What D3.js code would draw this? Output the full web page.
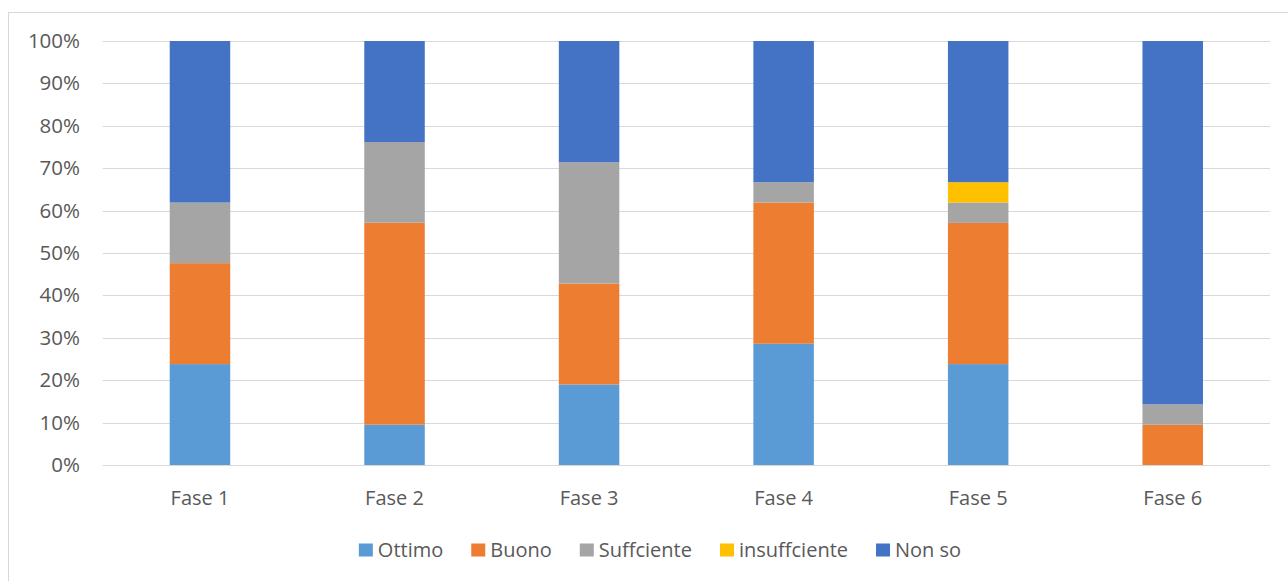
<!DOCTYPE html>
<html>
<head>
<meta charset="utf-8">
<script src="https://cdn.jsdelivr.net/npm/d3@7"></script>
<style>
  html, body { margin: 0; padding: 0; background: #fff; }
  svg { display: block; }
  text { font-family: "Open Sans", sans-serif; fill: #595959; }
</style>
</head>
<body>
<svg id="chart" width="1288" height="581"></svg>
<script>
const categories = ["Fase 1", "Fase 2", "Fase 3", "Fase 4", "Fase 5", "Fase 6"];
const seriesNames = ["Ottimo", "Buono", "Suffciente", "insuffciente", "Non so"];
const ottimo       = [23.8,  9.5, 19.0, 28.6, 23.8,  0.0];
const buono        = [23.8, 47.6, 23.8, 33.3, 33.3,  9.5];
const sufficiente  = [14.3, 19.0, 28.6,  4.8,  4.8,  4.8];
const insufficiente= [ 0.0,  0.0,  0.0,  0.0,  4.8,  0.0];
const nonSo        = [38.1, 23.8, 28.6, 33.3, 33.3, 85.7];
const yTicks = [0, 10, 20, 30, 40, 50, 60, 70, 80, 90, 100];
const colors = ["#5B9BD5", "#ED7D31", "#A5A5A5", "#FFC000", "#4472C4"];

const seriesValues = [ottimo, buono, sufficiente, insufficiente, nonSo];
const table = categories.map((c, i) => {
  const row = { cat: c };
  seriesNames.forEach((s, j) => row[s] = seriesValues[j][i]);
  return row;
});
const stacked = d3.stack().keys(seriesNames).offset(d3.stackOffsetExpand)(table);

const svg = d3.select("#chart");

// outer chart border
svg.append("rect")
  .attr("x", 8.5).attr("y", 12.5)
  .attr("width", 1300).attr("height", 600)
  .attr("fill", "none").attr("stroke", "#D9D9D9").attr("stroke-width", 1);

const x = d3.scaleBand().domain(categories).range([102.7, 1270]).paddingInner(0.689).paddingOuter(0.3445);
const y = d3.scaleLinear().domain([0, 1]).range([465, 41]);

// gridlines
svg.append("g").selectAll("line").data(yTicks).join("line")
  .attr("x1", 102.7).attr("x2", 1270)
  .attr("y1", d => Math.round(y(d / 100)) + 0.5)
  .attr("y2", d => Math.round(y(d / 100)) + 0.5)
  .attr("stroke", "#D9D9D9").attr("stroke-width", 1.2);

// y axis labels
const yAxis = d3.axisLeft(y).tickValues(yTicks.map(d => d / 100)).tickFormat(d3.format(".0%")).tickSize(0).tickPadding(0);
const gy = svg.append("g").attr("transform", "translate(80,0)").call(yAxis);
gy.select(".domain").remove();
gy.selectAll("text").style("font-family", "'Open Sans', sans-serif").style("font-size", "20.5px").attr("fill", "#595959");

// bars
svg.append("g").selectAll("g").data(stacked).join("g")
  .attr("fill", (d, i) => colors[i])
  .selectAll("rect").data(d => d).join("rect")
  .attr("x", d => x(d.data.cat))
  .attr("width", x.bandwidth())
  .attr("y", d => y(d[1]))
  .attr("height", d => Math.max(0, y(d[0]) - y(d[1])));

// x axis labels
const xAxis = d3.axisBottom(x).tickSize(0).tickPadding(0);
const gx = svg.append("g").attr("transform", "translate(0,465)").call(xAxis);
gx.select(".domain").remove();
gx.selectAll("text").attr("dy", null).attr("y", 40)
  .style("font-family", "'Open Sans', sans-serif").style("font-size", "20px").attr("fill", "#595959");

// legend
const legend = svg.append("g");
const items = legend.selectAll("g").data(seriesNames).join("g");
items.append("rect").attr("width", 14).attr("height", 13).attr("y", -6.5)
  .attr("fill", (d, i) => colors[i]);
items.append("text").attr("x", 19).attr("dy", "0.35em")
  .style("font-size", "20px").text(d => d);
let cx = 0;
items.each(function () {
  const w = this.getBBox().width;
  d3.select(this).attr("transform", `translate(${cx},0)`);
  cx += w + 28;
});
const total = cx - 28;
legend.attr("transform", `translate(${660 - total / 2},550)`);
</script>
</body>
</html>
